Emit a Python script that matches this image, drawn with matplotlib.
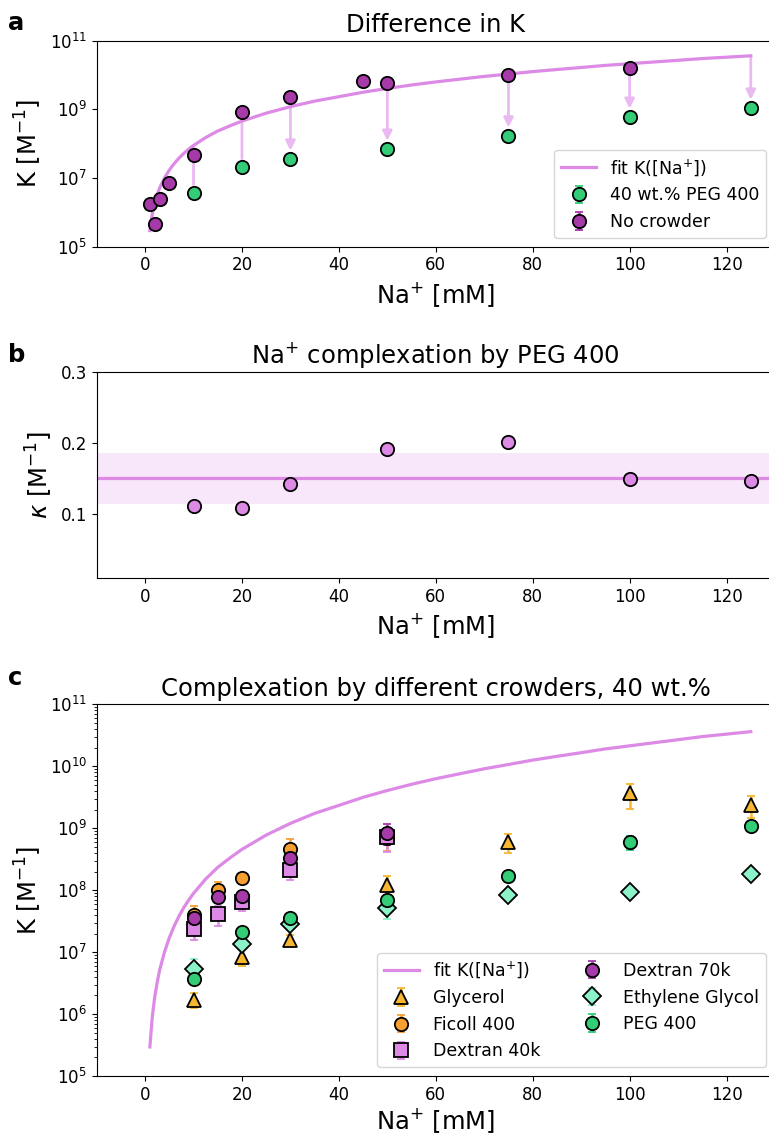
import numpy as np
import matplotlib.pyplot as plt
from matplotlib.ticker import NullLocator

# fit curve K([Na+])
fit_na = [1, 1.25, 1.5, 2, 2.5, 3, 4, 5, 6, 7, 8, 9, 10, 12.5, 15, 17.5, 20, 25, 30, 35,
          40, 45, 50, 55, 60, 65, 70, 75, 80, 85, 90, 95, 100, 105, 110, 115, 120, 125]
fit_k = [2.95e5, 5.25e5, 9.1e5, 1.9e6, 3.24e6, 5.1e6, 1.0e7, 1.7e7, 2.63e7, 3.8e7, 5.25e7,
         6.9e7, 8.9e7, 1.51e8, 2.34e8, 3.31e8, 4.57e8, 7.76e8, 1.2e9, 1.74e9, 2.34e9,
         3.16e9, 4.07e9, 5.13e9, 6.31e9, 7.59e9, 9.12e9, 1.07e10, 1.26e10, 1.45e10,
         1.66e10, 1.91e10, 2.14e10, 2.40e10, 2.69e10, 3.02e10, 3.31e10, 3.63e10]

# panel a
nocrowd_na = [1, 2, 3, 5, 10, 20, 30, 45, 50, 75, 100]
nocrowd_k = [1.8e6, 4.7e5, 2.4e6, 7.0e6, 4.6e7, 8.5e8, 2.3e9, 6.6e9, 5.7e9, 9.8e9, 1.57e10]
nocrowd_err = [2e5, 5e4, 2e5, 6e5, 4e6, 8e7, 2e8, 6e8, 5e8, 9e8, 1.4e9]
peg_na = [10, 20, 30, 50, 75, 100, 125]
peg_k = [3.7e6, 2.1e7, 3.6e7, 7.0e7, 1.7e8, 6.0e8, 1.1e9]
peg_err = [6e5, 3e6, 5e6, 1e7, 2.5e7, 1.6e8, 1.5e8]

# panel b
kappa_na = [10, 20, 30, 50, 75, 100, 125]
kappa = [0.111, 0.109, 0.142, 0.191, 0.201, 0.150, 0.147]

# panel c
glycerol_na = [10, 20, 30, 50, 75, 100, 125]
glycerol_k = [1.7e6, 8.4e6, 1.57e7, 1.2e8, 6.0e8, 3.66e9, 2.4e9]
glycerol_err = [4.6e5, 2.4e6, 3e6, 5e7, 2e8, 1.6e9, 9.5e8]
ficoll_na = [10, 15, 20, 30, 50]
ficoll_k = [4.0e7, 1.0e8, 1.55e8, 4.6e8, 7.0e8]
ficoll_err = [1.6e7, 3.7e7, 3e7, 2e8, 2.7e8]
dex40_na = [10, 15, 20, 30, 50]
dex40_k = [2.4e7, 4.1e7, 6.5e7, 2.1e8, 7.1e8]
dex40_err = [8.3e6, 1.43e7, 1.84e7, 6.4e7, 2.9e8]
dex70_na = [10, 15, 20, 30, 50]
dex70_k = [3.6e7, 7.7e7, 8.1e7, 3.3e8, 8.5e8]
dex70_err = [7e6, 1.5e7, 1.6e7, 7e7, 3.2e8]
eg_na = [10, 20, 30, 50, 75, 100, 125]
eg_k = [5.4e6, 1.35e7, 2.8e7, 5.1e7, 8.4e7, 9.4e7, 1.82e8]
eg_err = [2.5e6, 2.5e6, 5e6, 1.7e7, 1.2e7, 1.2e7, 2.5e7]

c_purple = "#a53aa8"
c_orchid = "#dd8ae6"
c_green = "#33cc77"
c_aqua = "#8cf2c8"
c_gold = "#f7b731"
c_orange = "#f7a030"
c_arrow = "#ebb9f2"

FS_TICK = 12
FS_LAB = 17.5
FS_LEG = 12.5

fig = plt.figure(figsize=(7.69, 11.37), dpi=100)
left, width = 0.1256, 0.8822
ax_a = fig.add_axes([left, 0.7830, width, 0.1812])
ax_b = fig.add_axes([left, 0.4914, width, 0.1817])
ax_c = fig.add_axes([left, 0.0536, width, 0.3269])

mk = dict(markersize=9.6, markeredgecolor="black", markeredgewidth=1.3,
          linestyle="none", capsize=3, elinewidth=1.8, capthick=1.8)


def style_x(ax, pad=4):
    ax.set_xlim(-10, 130)
    ax.set_xticks([0, 20, 40, 60, 80, 100, 120])
    ax.set_xlabel("Na$^{+}$ [mM]", fontsize=FS_LAB, labelpad=pad)
    ax.tick_params(labelsize=FS_TICK)


# ---- a ----
ax = ax_a
ax.plot(fit_na, fit_k, color=c_orchid, lw=2.3, label="fit K([Na$^{+}$])", zorder=2)
for x, k in zip(peg_na, peg_k):
    k0 = fit_k[fit_na.index(x)]
    head = "-|>" if np.log10(k0 / k) > 1.4 else "-"
    ax.annotate("", xy=(x, k), xytext=(x, k0),
                arrowprops=dict(arrowstyle=head, color=c_arrow, lw=2,
                                mutation_scale=14, shrinkA=0, shrinkB=6),
                zorder=1)
ax.errorbar(peg_na, peg_k, yerr=peg_err, color=c_green, markerfacecolor=c_green,
            marker="o", label="40 wt.% PEG 400", zorder=3, **mk)
ax.errorbar(nocrowd_na, nocrowd_k, yerr=nocrowd_err, color=c_purple, markerfacecolor=c_purple,
            marker="o", label="No crowder", zorder=3, **mk)
ax.set_yscale("log")
ax.set_ylim(1e5, 1e11)
ax.set_yticks([1e5, 1e7, 1e9, 1e11])
ax.yaxis.set_minor_locator(NullLocator())
ax.set_ylabel("K [M$^{-1}$]", fontsize=FS_LAB)
ax.set_title("Difference in K", fontsize=FS_LAB)
style_x(ax)
ax.legend(loc="lower right", fontsize=FS_LEG)

# ---- b ----
ax = ax_b
k_mean = np.mean(kappa)
k_sd = np.std(kappa, ddof=1)
ax.axhspan(k_mean - k_sd, k_mean + k_sd, color=c_orchid, alpha=0.2, lw=0, zorder=1)
ax.axhline(k_mean, color=c_orchid, lw=2.3, zorder=2)
ax.plot(kappa_na, kappa, marker="o", linestyle="none", markersize=9.6,
        markerfacecolor=c_orchid, markeredgecolor="black", markeredgewidth=1.3, zorder=3)
ax.set_ylim(0.01, 0.3)
ax.set_yticks([0.1, 0.2, 0.3])
ax.set_ylabel(r"$\kappa$ [M$^{-1}$]", fontsize=FS_LAB)
ax.set_title("Na$^{+}$ complexation by PEG 400", fontsize=FS_LAB)
style_x(ax)

# ---- c ----
ax = ax_c
ax.plot(fit_na, fit_k, color=c_orchid, lw=2.3, label="fit K([Na$^{+}$])", zorder=2)
series = [
    (glycerol_na, glycerol_k, glycerol_err, c_gold, "^", "Glycerol"),
    (ficoll_na, ficoll_k, ficoll_err, c_orange, "o", "Ficoll 400"),
    (dex40_na, dex40_k, dex40_err, c_orchid, "s", "Dextran 40k"),
    (dex70_na, dex70_k, dex70_err, c_purple, "o", "Dextran 70k"),
    (eg_na, eg_k, eg_err, c_aqua, "D", "Ethylene Glycol"),
    (peg_na, peg_k, peg_err, c_green, "o", "PEG 400"),
]
for xs, ks, es, col, m, lab in series:
    ax.errorbar(xs, ks, yerr=es, color=col, markerfacecolor=col, marker=m,
                label=lab, zorder=3, **mk)
ax.set_yscale("log")
ax.set_ylim(1e5, 1e11)
ax.set_ylabel("K [M$^{-1}$]", fontsize=FS_LAB)
ax.set_title("Complexation by different crowders, 40 wt.%", fontsize=FS_LAB)
style_x(ax, pad=2)
ax.legend(loc="lower right", ncol=2, fontsize=FS_LEG)

for ax in (ax_a, ax_b, ax_c):
    ax.spines["right"].set_visible(False)

fig.text(0.0104, 0.9736, "a", fontsize=FS_LAB, fontweight="bold")
fig.text(0.0104, 0.6816, "b", fontsize=FS_LAB, fontweight="bold")
fig.text(0.0104, 0.3975, "c", fontsize=FS_LAB, fontweight="bold")

fig.savefig("out.png", dpi=100)
